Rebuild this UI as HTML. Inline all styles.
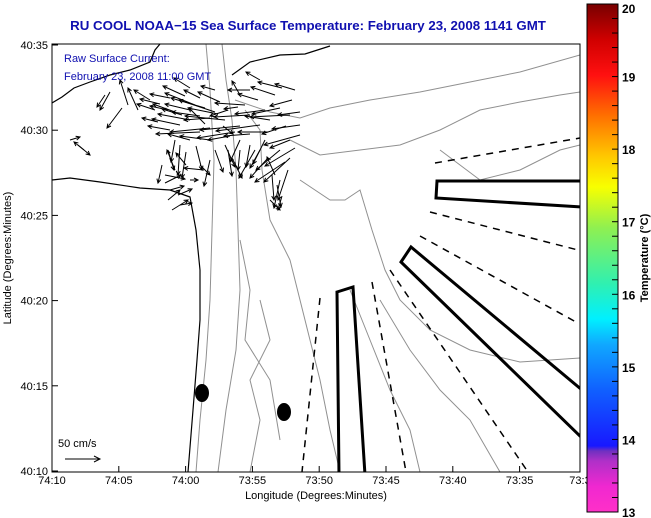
<!DOCTYPE html>
<html><head><meta charset="utf-8"><style>
html,body{margin:0;padding:0;background:#fff;width:651px;height:518px;overflow:hidden}
svg{display:block;font-family:"Liberation Sans",sans-serif}
</style></head><body>
<svg id="c" width="651" height="518" viewBox="0 0 651 518">
<defs>
<linearGradient id="cb" x1="0" y1="1" x2="0" y2="0">
<stop offset="0" stop-color="#ff30c8"/><stop offset="0.05" stop-color="#f028d0"/>
<stop offset="0.1" stop-color="#b030c8"/><stop offset="0.12" stop-color="#7030c0"/>
<stop offset="0.13" stop-color="#1818ff"/><stop offset="0.24" stop-color="#1060ff"/>
<stop offset="0.33" stop-color="#10a8ff"/><stop offset="0.38" stop-color="#00f0ff"/>
<stop offset="0.45" stop-color="#30f0b0"/><stop offset="0.56" stop-color="#90f050"/>
<stop offset="0.64" stop-color="#f8ff00"/><stop offset="0.7" stop-color="#ffc800"/>
<stop offset="0.78" stop-color="#ff7000"/><stop offset="0.86" stop-color="#ff1010"/>
<stop offset="0.93" stop-color="#d00000"/><stop offset="1" stop-color="#780000"/>
</linearGradient>
<clipPath id="pc"><rect x="52" y="44" width="528" height="428"/></clipPath>
</defs>
<text x="308" y="30" text-anchor="middle" font-size="13.3" font-weight="bold" fill="#1010b0">RU COOL  NOAA−15  Sea Surface Temperature:  February 23, 2008 1141 GMT</text>
<g id="plot" clip-path="url(#pc)">
<g fill="none" stroke="#909090" stroke-width="1">
<polyline points="222,44 226,80 232,120 236,170 238,230 240,290 236,350 226,410 218,472"/>
<polyline points="206,44 210,90 214,160 212,230 210,300 206,360 200,420 196,472"/>
<polyline points="245,110 260,130 262,170 270,220 290,260 300,300 310,340 320,380 330,430 340,472"/>
<polyline points="235,100 270,112 300,118 330,108 370,100 420,92 470,82 520,72 580,55"/>
<polyline points="290,140 320,155 360,150 400,145 440,130 480,110 520,102 560,95 580,92"/>
<polyline points="300,180 330,200 345,200 360,190 372,230 385,270 400,300 430,330 470,350 520,362 580,358"/>
<polyline points="350,290 370,340 390,390 410,430 420,472"/>
<polyline points="380,300 410,350 440,390 470,420 500,472"/>
<polyline points="260,300 270,340 250,380 260,420 250,472"/>
<polyline points="440,150 480,180 520,170 560,150 580,145"/>
<polyline points="240,240 250,290 245,340 270,380 280,440"/>
</g>
<g fill="none" stroke="#000" stroke-width="1.2">
<polyline points="52,103 62,97 74,88 90,82 110,75 130,70 150,62 155,50 160,44"/>
<polyline points="52,180 70,178 100,182 140,188 170,190 190,197 196,230 200,270 200,320 197,360 193,410 188,472"/>
<polyline points="232,75 250,62 280,55 305,54 330,46"/>
</g>
<g fill="none" stroke="#000" stroke-width="1.5" stroke-dasharray="7,6">
<line x1="435" y1="163" x2="580" y2="138"/>
<line x1="430" y1="212" x2="578" y2="250"/>
<line x1="420" y1="236" x2="576" y2="322"/>
<line x1="390" y1="270" x2="528" y2="472"/>
<line x1="372" y1="282" x2="406" y2="472"/>
<line x1="320" y1="298" x2="302" y2="472"/>
</g>
<g fill="none" stroke="#000" stroke-width="3">
<polygon points="437,181 582,181 582,207 436,198"/>
<polygon points="401,262 411,247 582,390 582,438"/>
<polygon points="337,292 353,287 365,475 339,475"/>
</g>
<ellipse cx="202" cy="393" rx="7" ry="9" fill="#000"/>
<ellipse cx="284" cy="412" rx="7" ry="9" fill="#000"/>
<g id="arrows" stroke="#000" stroke-width="1" fill="none"></g>
</g>
<rect x="52" y="44" width="528" height="428" fill="none" stroke="#000" stroke-width="1"/>
<g id="axes" font-size="11" fill="#000"></g>
<text x="64" y="62" font-size="11" fill="#1010b0">Raw Surface Current:</text>
<text x="64" y="80" font-size="11" fill="#1010b0">February 23, 2008 11:00 GMT</text>
<text x="58" y="447" font-size="11" fill="#000">50 cm/s</text>
<g stroke="#000"><line x1="65" y1="459" x2="100" y2="459"/><polyline points="94,456 100,459 94,462" fill="none"/></g>
<text x="316" y="499" text-anchor="middle" font-size="11">Longitude (Degrees:Minutes)</text>
<text transform="translate(11,258) rotate(-90)" text-anchor="middle" font-size="11">Latitude (Degrees:Minutes)</text>
<rect x="587" y="4" width="31" height="508" fill="url(#cb)" stroke="#000" stroke-width="1"/>
<g id="cbt" font-size="12" font-weight="bold"></g>
<text transform="translate(648,258) rotate(-90)" text-anchor="middle" font-size="11" font-weight="bold">Temperature (°C)</text>
</svg>
<script>
const xTicks=["74:10","74:05","74:00","73:55","73:50","73:45","73:40","73:35","73:3"];
const yTicks=["40:10","40:15","40:20","40:25","40:30","40:35"];
const cbTicks=[13,14,15,16,17,18,19,20];
// current vectors: [x, y, u, v] in pixels (head at x+u, y+v)
const vecs=[[110,92,-10,18],[105,95,-8,12],[128,105,-8,-25],[138,110,-10,-22],[122,108,-15,20],[70,140,10,-3],[78,145,12,10],[84,150,-10,-8],[150,100,-16,-10],[160,104,-20,-5],[168,110,-18,-4],[175,112,-22,-8],[182,115,-20,-6],[190,110,-25,-6],[200,116,-28,-4],[210,118,-26,2],[218,114,-30,-6],[228,110,-18,6],[238,107,-14,2],[220,102,-22,-10],[200,98,-16,-8],[185,96,-22,-10],[250,90,-22,0],[258,100,-20,-6],[270,120,-25,-4],[282,88,-24,-6],[292,100,-22,6],[300,112,-22,3],[300,125,-28,4],[286,126,-24,8],[268,132,-30,0],[250,134,-26,2],[230,136,-22,4],[210,140,-30,-4],[190,140,-22,-6],[170,130,-22,-4],[158,122,-16,-4],[210,128,-40,4],[240,126,-40,4],[175,140,-4,22],[180,145,-2,30],[168,150,6,20],[196,146,6,24],[200,165,10,10],[204,170,-20,-2],[215,150,8,22],[225,145,10,22],[232,158,10,20],[240,150,-2,20],[250,145,-4,22],[255,150,-16,28],[260,150,-10,18],[268,158,-18,20],[280,150,-24,20],[290,140,-20,8],[285,162,-30,20],[295,148,-30,18],[275,175,-8,-18],[277,185,4,22],[280,180,-6,28],[272,175,2,25],[270,200,10,10],[165,175,20,4],[170,190,14,-4],[168,200,12,-10],[172,210,16,-10],[180,205,12,-2],[165,183,16,-8],[190,180,8,0],[186,165,-10,-12],[175,170,-8,-20],[223,126,10,8],[260,80,-14,-8],[215,90,-14,-4],[240,95,-8,-14],[190,88,-16,-10],[170,98,-20,-4],[205,124,-16,-16],
[195,105,-30,-12],[205,108,-34,-10],[215,112,-36,-12],[190,120,-32,-6],[225,120,-40,-4],[250,115,-36,2],[265,110,-30,4],[280,108,-28,6],[290,115,-40,2],[260,125,-44,6],[235,132,-38,6],[200,132,-44,2],[180,125,-28,-6],[275,95,-24,-8],[295,90,-20,-6],[240,140,-10,22],[265,140,-12,24],[290,158,-26,24],[300,135,-36,10],[155,110,-18,-6],[245,105,-30,-2],[228,150,4,26],[210,160,-6,26],[186,152,-4,26],[162,165,-4,18],[178,195,14,-6],[282,196,-4,14],[288,170,-10,30]];
const x0=52,dx=66.8,y0=471,dy=85.2;
const xs=i=>x0+i*dx, ys=i=>y0-i*dy;
const ax=document.getElementById('axes');
const ns='http://www.w3.org/2000/svg';
function mk(t,a,p){const e=document.createElementNS(ns,t);for(const k in a)e.setAttribute(k,a[k]);p.appendChild(e);return e;}
xTicks.forEach((t,i)=>{
 const x=Math.min(xs(i),580);
 const l=mk('line',{x1:x,y1:472,x2:x,y2:466,stroke:'#000'},ax);
 
 
 const tx=mk('text',{x:x,y:484,'text-anchor':'middle'},ax);tx.textContent=t;
 
 
});
yTicks.forEach((t,i)=>{
 const y=ys(i);
 const l=mk('line',{x1:52,y1:y,x2:58,y2:y,stroke:'#000'},ax);
 
 
 const tx=mk('text',{x:48,y:y+4,'text-anchor':'end'},ax);tx.textContent=t;
 
 
});
const cb=document.getElementById('cbt');
const cy=v=>512-(v-13)*(508/7);
for(let v=13;v<=20.001;v+=0.2){const y=cy(v);const l=mk('line',{x1:612,y1:y,x2:618,y2:y,stroke:'#000'},cb);
 
 }
cbTicks.forEach(v=>{const y=cy(v);const t=mk('text',{x:622,y:Math.min(Math.max(y+5,13),517)},cb);t.textContent=v;
 
 });
const ar=document.getElementById('arrows');
vecs.forEach(([x,y,u,v])=>{
 const L=Math.hypot(u,v)||1,ux=u/L,uy=v/L,hx=x+u,hy=y+v,h=4;
 const p=mk('path',{d:`M${x},${y}L${hx},${hy}M${hx-h*ux+h*0.5*uy},${hy-h*uy-h*0.5*ux}L${hx},${hy}L${hx-h*ux-h*0.5*uy},${hy-h*uy+h*0.5*ux}`},ar);
 
 
});
</script>
</body></html>
